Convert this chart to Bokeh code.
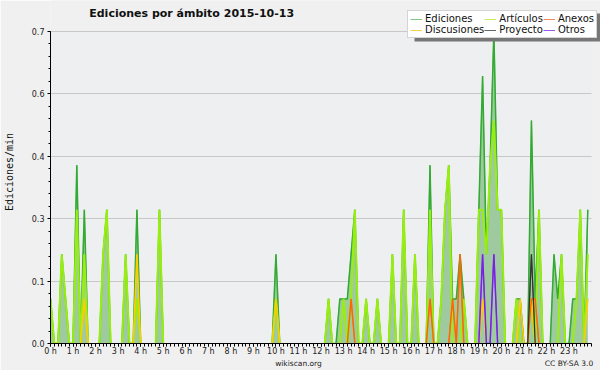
import numpy as np
from bokeh.plotting import figure
from bokeh.models import (ColumnDataSource, Range1d, FixedTicker, PrintfTickFormatter,
                          Legend, LegendItem, Label, BoxAnnotation, LinearAxis)
from bokeh.embed import file_html
from bokeh.resources import INLINE

# ---------------- data (10-minute slots, edits per minute) ----------------
title_text = "Ediciones por ámbito  2015-10-13"
y_label = "Ediciones/min"
source_text = "wikiscan.org"
license_text = "CC BY-SA 3.0"
slot_minutes = 10
hour_ticks = list(range(24))
y_tick_values = [0.0, 0.14, 0.28, 0.42, 0.56, 0.70]
y_max = 0.7
day_hours = 24

ediciones = [
    .1, 0, 0, .2, .1, 0,   0, .4, 0, .3, 0, 0,   0, 0, .2, .3, 0, 0,   0, 0, .2, 0, 0, .3,
    0, 0, 0, 0, 0, .3,     0, 0, 0, 0, 0, 0,     0, 0, 0, 0, 0, 0,     0, 0, 0, 0, 0, 0,
    0, 0, 0, 0, 0, 0,      0, 0, 0, 0, 0, 0,     .2, 0, 0, 0, 0, 0,    0, 0, 0, 0, 0, 0,
    0, 0, .1, 0, 0, .1,    .1, .1, .2, .3, 0, 0, .1, 0, 0, .1, 0, 0,   0, .2, 0, 0, .3, 0,
    0, .2, 0, 0, 0, .4,    0, 0, .1, .3, .4, .1, .1, .2, .1, 0, 0, 0,  .3, .6, .2, .4, .7, .3,
    .3, 0, 0, 0, .1, .1,   0, 0, .5, .1, .3, 0,  0, 0, .2, .1, .2, 0,  0, .1, .1, .3, 0, .3,
]
articulos = [
    .1, 0, 0, .2, .1, 0,   0, .3, 0, .2, 0, 0,   0, 0, .2, .3, 0, 0,   0, 0, .2, 0, 0, .1,
    0, 0, 0, 0, 0, .3,     0, 0, 0, 0, 0, 0,     0, 0, 0, 0, 0, 0,     0, 0, 0, 0, 0, 0,
    0, 0, 0, 0, 0, 0,      0, 0, 0, 0, 0, 0,     .1, 0, 0, 0, 0, 0,    0, 0, 0, 0, 0, 0,
    0, 0, .1, 0, 0, 0,     .1, 0, .1, .3, 0, 0,  .1, 0, 0, .1, 0, 0,   0, .2, 0, 0, .3, 0,
    0, .2, 0, 0, 0, .3,    0, 0, .1, .3, .4, 0,  0, 0, .1, 0, 0, 0,    .3, .3, .2, .4, .5, .3,
    .3, 0, 0, 0, .1, 0,    0, 0, .1, 0, .3, 0,   0, 0, 0, 0, .2, 0,    0, 0, .1, .3, 0, .2,
]
anexos = [
    0, 0, 0, 0, 0, 0,      0, 0, 0, 0, 0, 0,     0, 0, 0, 0, 0, 0,     0, 0, 0, 0, 0, 0,
    0, 0, 0, 0, 0, 0,      0, 0, 0, 0, 0, 0,     0, 0, 0, 0, 0, 0,     0, 0, 0, 0, 0, 0,
    0, 0, 0, 0, 0, 0,      0, 0, 0, 0, 0, 0,     0, 0, 0, 0, 0, 0,     0, 0, 0, 0, 0, 0,
    0, 0, 0, 0, 0, 0,      0, 0, .1, 0, 0, 0,    0, 0, 0, 0, 0, 0,     0, 0, 0, 0, 0, 0,
    0, 0, 0, 0, 0, .1,     0, 0, 0, 0, 0, .1,    0, .2, 0, 0, 0, 0,    0, 0, 0, 0, 0, 0,
    0, 0, 0, 0, 0, 0,      0, 0, .1, .1, 0, 0,   0, 0, 0, 0, 0, 0,     0, 0, 0, 0, 0, 0,
]
discusiones = [
    0, 0, 0, 0, 0, 0,      0, 0, 0, .1, 0, 0,    0, 0, 0, 0, 0, 0,     0, 0, 0, 0, 0, .2,
    0, 0, 0, 0, 0, 0,      0, 0, 0, 0, 0, 0,     0, 0, 0, 0, 0, 0,     0, 0, 0, 0, 0, 0,
    0, 0, 0, 0, 0, 0,      0, 0, 0, 0, 0, 0,     .1, 0, 0, 0, 0, 0,    0, 0, 0, 0, 0, 0,
    0, 0, 0, 0, 0, 0,      0, 0, 0, 0, 0, 0,     0, 0, 0, 0, 0, 0,     0, 0, 0, 0, 0, 0,
    0, 0, 0, 0, 0, 0,      0, 0, 0, 0, 0, 0,     0, 0, 0, 0, 0, 0,     0, .1, 0, 0, 0, 0,
    0, 0, 0, 0, 0, .1,     0, 0, .1, 0, 0, 0,    0, 0, 0, 0, 0, 0,     0, 0, 0, 0, 0, .1,
]
proyecto = [
    0, 0, 0, 0, 0, 0,      0, 0, 0, 0, 0, 0,     0, 0, 0, 0, 0, 0,     0, 0, 0, 0, 0, 0,
    0, 0, 0, 0, 0, 0,      0, 0, 0, 0, 0, 0,     0, 0, 0, 0, 0, 0,     0, 0, 0, 0, 0, 0,
    0, 0, 0, 0, 0, 0,      0, 0, 0, 0, 0, 0,     0, 0, 0, 0, 0, 0,     0, 0, 0, 0, 0, 0,
    0, 0, 0, 0, 0, 0,      0, 0, 0, 0, 0, 0,     0, 0, 0, 0, 0, 0,     0, 0, 0, 0, 0, 0,
    0, 0, 0, 0, 0, 0,      0, 0, 0, 0, 0, 0,     0, 0, 0, 0, 0, 0,     0, 0, 0, 0, 0, 0,
    0, 0, 0, 0, 0, 0,      0, 0, .2, 0, 0, 0,    0, 0, 0, 0, 0, 0,     0, 0, 0, 0, 0, 0,
]
otros = [
    0, 0, 0, 0, 0, 0,      0, 0, 0, 0, 0, 0,     0, 0, 0, 0, 0, 0,     0, 0, 0, 0, 0, 0,
    0, 0, 0, 0, 0, 0,      0, 0, 0, 0, 0, 0,     0, 0, 0, 0, 0, 0,     0, 0, 0, 0, 0, 0,
    0, 0, 0, 0, 0, 0,      0, 0, 0, 0, 0, 0,     0, 0, 0, 0, 0, 0,     0, 0, 0, 0, 0, 0,
    0, 0, 0, 0, 0, 0,      0, 0, 0, 0, 0, 0,     0, 0, 0, 0, 0, 0,     0, 0, 0, 0, 0, 0,
    0, 0, 0, 0, 0, 0,      0, 0, 0, 0, 0, 0,     0, 0, 0, 0, 0, 0,     0, .2, 0, 0, .2, 0,
    0, 0, 0, 0, 0, 0,      0, 0, 0, 0, 0, 0,     0, 0, 0, 0, 0, 0,     0, 0, 0, 0, 0, 0,
]

n = len(ediciones)
x = np.arange(n) * slot_minutes / 60.0


def visible(vals):
    """Hide long runs of zero so the lines do not paint over the axis."""
    v = np.array(vals, dtype=float)
    prev_v = np.concatenate([[0.0], v[:-1]])
    next_v = np.concatenate([v[1:], [0.0]])
    return np.where((v > 0) | (prev_v > 0) | (next_v > 0), v, np.nan)


src = ColumnDataSource(dict(
    x=x, ed_fill=np.array(ediciones, dtype=float),
    ed=visible(ediciones), art=visible(articulos), anx=visible(anexos),
    dis=visible(discusiones), pro=visible(proyecto), otr=visible(otros),
))

# ---------------- layout ----------------
# The frame reaches the top and right edges of the canvas (annotations are
# clipped to the frame); the data area itself is 0..24 h by 0..0.7.
W, H = 600, 370
left_px, bottom_px = 46, 26
data_w_px, data_h_px = 545, 313          # size of the 0..24 h x 0..0.7 area
frame_w, frame_h = W - left_px, H - bottom_px
x_end = day_hours * frame_w / data_w_px
y_end = y_max * frame_h / data_h_px

outer_bg = "#f0f0f0"
plot_bg = "#edeff1"

p = figure(width=W, height=H, output_backend="svg", toolbar_location=None, title=None,
           x_range=Range1d(0, x_end), y_range=Range1d(0, y_end),
           min_border_left=left_px, min_border_right=0, min_border_top=0,
           min_border_bottom=bottom_px,
           background_fill_color=plot_bg, border_fill_color=outer_bg)
p.outline_line_color = None

# outside-the-data strips painted in the page colour
p.add_layout(BoxAnnotation(bottom=y_max + 0.003, fill_color=outer_bg, fill_alpha=1,
                           line_color=None, level="underlay"))
p.add_layout(BoxAnnotation(left=day_hours, fill_color=outer_bg, fill_alpha=1,
                           line_color=None, level="underlay"))

p.varea(x="x", y1=0, y2="ed_fill", source=src, fill_color="#9fca9f")

# series: (legend name, column, key colour, line colour, line width)
series = [
    ("Ediciones", "ed", "#7fc97f", "#33aa33", 1.5),
    ("Artículos", "art", "#c4ec5c", "#99ee11", 2.0),
    ("Anexos", "anx", "#f08a5a", "#ff6600", 1.5),
    ("Discusiones", "dis", "#f8cf4a", "#ffcc00", 1.5),
    ("Proyecto", "pro", "#666666", "#333333", 1.3),
    ("Otros", "otr", "#9a58ec", "#7a1fe6", 1.5),
]
# thin light key lines (as in the original key), drawn first so the
# stronger series lines cover them in the plot area
legend_items = []
for name, col, key_col, _, _ in series:
    r = p.line("x", col, source=src, line_color=key_col, line_width=1)
    legend_items.append(LegendItem(label=name, renderers=[r]))
draw_order = ["ed", "art", "dis", "anx", "pro", "otr"]
spec = {s[1]: s for s in series}
for col in draw_order:
    _, _, _, line_col, lw = spec[col]
    p.line("x", col, source=src, line_color=line_col, line_width=lw)

# ---------------- axes ----------------
p.xaxis.ticker = FixedTicker(ticks=hour_ticks,
                             minor_ticks=list(np.arange(n + 1) * slot_minutes / 60.0))
p.xaxis.formatter = PrintfTickFormatter(format="%d h")
p.xaxis.bounds = (0, day_hours)
p.yaxis.ticker = FixedTicker(ticks=y_tick_values,
                             minor_ticks=list(np.linspace(0, y_max, 26)))
p.yaxis.formatter = PrintfTickFormatter(format="%.1f")
p.yaxis.bounds = (0, y_max)
for ax in (p.xaxis, p.yaxis):
    ax.axis_line_color = "black"
    ax.major_tick_line_color = "black"
    ax.minor_tick_line_color = "black"
    ax.major_tick_in = 0
    ax.minor_tick_in = 0
    ax.major_tick_out = 3
    ax.minor_tick_out = 2
    ax.major_label_text_font = "DejaVu Sans"
    ax.major_label_text_font_size = "8px"
    ax.major_label_text_color = "#222222"
p.xaxis.minor_tick_out = 3
p.xaxis.major_label_standoff = 0
p.xaxis.axis_label_standoff = 0
p.yaxis.major_label_standoff = 3
p.yaxis.axis_label = y_label
p.yaxis.axis_label_text_font = "DejaVu Sans Mono"
p.yaxis.axis_label_text_font_size = "10px"
p.yaxis.axis_label_text_font_style = "normal"
p.yaxis.axis_label_text_color = "#111111"
p.yaxis.axis_label_standoff = 14

# a second, bare axis below carries the source credit and the licence
credit_axis = LinearAxis(ticker=FixedTicker(ticks=[11, 23]),
                         major_label_overrides={11: source_text, 23: license_text})
credit_axis.axis_line_color = None
credit_axis.major_tick_line_color = None
credit_axis.minor_tick_line_color = None
credit_axis.major_tick_out = 0
credit_axis.minor_tick_out = 0
credit_axis.major_label_standoff = 0
credit_axis.axis_label_standoff = 0
credit_axis.major_label_text_font = "DejaVu Sans"
credit_axis.major_label_text_font_size = "7.5px"
credit_axis.major_label_text_color = "#222222"
p.add_layout(credit_axis, "below")

p.xgrid.visible = False
p.ygrid.grid_line_color = "#c8c8c8"

# ---------------- title (inside the frame, above the data area) ----------------
p.add_layout(Label(x=39 * day_hours / data_w_px, y=y_max * (H - bottom_px - 13) / data_h_px,
                   text=title_text, text_font="DejaVu Sans", text_font_style="bold",
                   text_font_size="11px", text_baseline="middle", text_color="#111111"))

# ---------------- legend with shadow ----------------
shadow = BoxAnnotation(left=364, right=550, top=330, bottom=302,
                       left_units="screen", right_units="screen",
                       top_units="screen", bottom_units="screen",
                       fill_color="#777777", fill_alpha=1, line_color=None)
p.add_layout(shadow)
legend = Legend(items=legend_items, location=(357, 305), orientation="horizontal", ncols=3)
legend.label_text_font = "DejaVu Sans"
legend.label_text_font_size = "10px"
legend.label_text_color = "#111111"
legend.label_height = 10
legend.glyph_height = 10
legend.glyph_width = 12
legend.label_standoff = 3
legend.spacing = 0
legend.padding = 2
legend.margin = 0
legend.border_line_color = "#aaaaaa"
legend.background_fill_color = "white"
legend.background_fill_alpha = 1
p.add_layout(legend)

open("out.html", "w").write(file_html(p, INLINE))
